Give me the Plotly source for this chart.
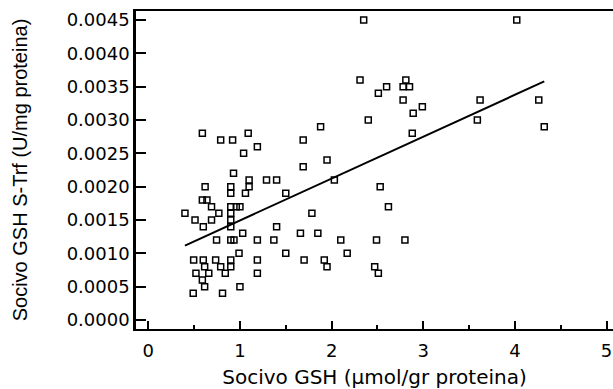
import numpy as np
import plotly.graph_objects as go

# Socivo GSH content (µmol/gr proteina) per sample
gsh = [
    0.59, 0.79, 0.92, 1.09, 1.04, 1.19, 1.69,
    0.93, 1.10, 1.29, 1.40, 0.62, 0.90, 1.10,
    0.90, 1.06, 1.50, 0.59, 0.64, 0.69, 0.90, 0.96, 1.00,
    0.40, 0.77, 0.90, 0.51, 0.69, 0.90, 0.60, 0.90, 1.40,
    1.03, 1.66, 1.85,
    0.745, 0.90, 0.935, 1.19, 1.37,
    0.99, 1.50,
    0.495, 0.60, 0.735, 0.90, 1.19,
    0.615, 0.79, 0.90,
    0.52, 0.66, 0.84, 1.19,
    0.59, 0.615, 1.00, 0.49, 0.81,
    2.35, 2.31, 2.81, 2.60, 2.78, 2.85, 2.51, 2.78, 2.99, 2.89, 2.40,
    1.88, 2.88, 1.95, 1.69,
    2.03, 2.53, 2.62, 1.785, 2.10, 2.49, 2.80, 2.17, 1.70, 1.92, 1.95,
    2.47, 2.51,
    4.02, 3.62, 4.26, 3.59, 4.32,
]

# GSH S-transferase activity (U/mg proteina) per sample
gst = [
    0.0028, 0.0027, 0.0027, 0.0028, 0.0025, 0.0026, 0.0027,
    0.0022, 0.0021, 0.0021, 0.0021, 0.0020, 0.0020, 0.0020,
    0.0019, 0.0019, 0.0019, 0.0018, 0.0018, 0.0017, 0.0017, 0.0017, 0.0017,
    0.0016, 0.0016, 0.0016, 0.0015, 0.0015, 0.0015, 0.0014, 0.0014, 0.0014,
    0.0013, 0.0013, 0.0013,
    0.0012, 0.0012, 0.0012, 0.0012, 0.0012,
    0.0010, 0.0010,
    0.0009, 0.0009, 0.0009, 0.0009, 0.0009,
    0.0008, 0.0008, 0.0008,
    0.0007, 0.0007, 0.0007, 0.0007,
    0.0006, 0.0005, 0.0005, 0.0004, 0.0004,
    0.0045, 0.0036, 0.0036, 0.0035, 0.0035, 0.0035, 0.0034, 0.0033, 0.0032, 0.0031, 0.0030,
    0.0029, 0.0028, 0.0024, 0.0023,
    0.0021, 0.0020, 0.0017, 0.0016, 0.0012, 0.0012, 0.0012, 0.0010, 0.0009, 0.0009, 0.0008,
    0.0008, 0.0007,
    0.0045, 0.0033, 0.0033, 0.0030, 0.0029,
]

x_ticks = [0, 1, 2, 3, 4, 5]
y_ticks = [0.0000, 0.0005, 0.0010, 0.0015, 0.0020, 0.0025, 0.0030, 0.0035, 0.0040, 0.0045]

x_arr = np.array(gsh)
y_arr = np.array(gst)

# least-squares regression line over the observed range
slope, intercept = np.polyfit(x_arr, y_arr, 1)
fit_x = np.array([x_arr.min(), x_arr.max()])
fit_y = slope * fit_x + intercept

tick_font = dict(family="DejaVu Sans", size=18, color="black")

fig = go.Figure()
fig.add_trace(go.Scatter(
    x=gsh, y=gst, mode="markers",
    marker=dict(symbol="square-open", size=6, color="black", line=dict(width=1.5, color="black")),
    hoverinfo="skip", showlegend=False,
))
fig.add_trace(go.Scatter(
    x=fit_x, y=fit_y, mode="lines",
    line=dict(color="black", width=2),
    hoverinfo="skip", showlegend=False,
))

fig.update_layout(
    width=613, height=389,
    margin=dict(l=136, r=0, t=11, b=60),
    paper_bgcolor="white", plot_bgcolor="white",
    showlegend=False,
)

fig.update_xaxes(
    range=[-0.134, 5.07],
    tickvals=x_ticks, ticktext=[str(v) for v in x_ticks],
    ticks="inside", ticklen=8, tickwidth=1.5, tickcolor="black",
    minor=dict(ticks="inside", ticklen=4, tickwidth=1.5, tickcolor="black", dtick=0.5, tick0=0, showgrid=False),
    showline=True, linecolor="black", linewidth=2, mirror=True,
    showgrid=False, zeroline=False,
    tickfont=tick_font, ticklabelstandoff=4,
    title=dict(text="Socivo GSH (µmol/gr proteina)", font=dict(family="DejaVu Sans", size=20, color="black"), standoff=11),
)

fig.update_yaxes(
    range=[-0.000135, 0.004635],
    tickvals=y_ticks, ticktext=[f"{v:.4f}" for v in y_ticks],
    ticks="inside", ticklen=10, tickwidth=1.5, tickcolor="black",
    showline=True, linecolor="black", linewidth=2.5, mirror=False,
    showgrid=False, zeroline=False,
    tickfont=tick_font,
    title=dict(text="Socivo GSH S-Trf (U/mg proteina)", font=dict(family="Liberation Sans", size=20, color="black"), standoff=34),
)

fig.write_html("out.html")
